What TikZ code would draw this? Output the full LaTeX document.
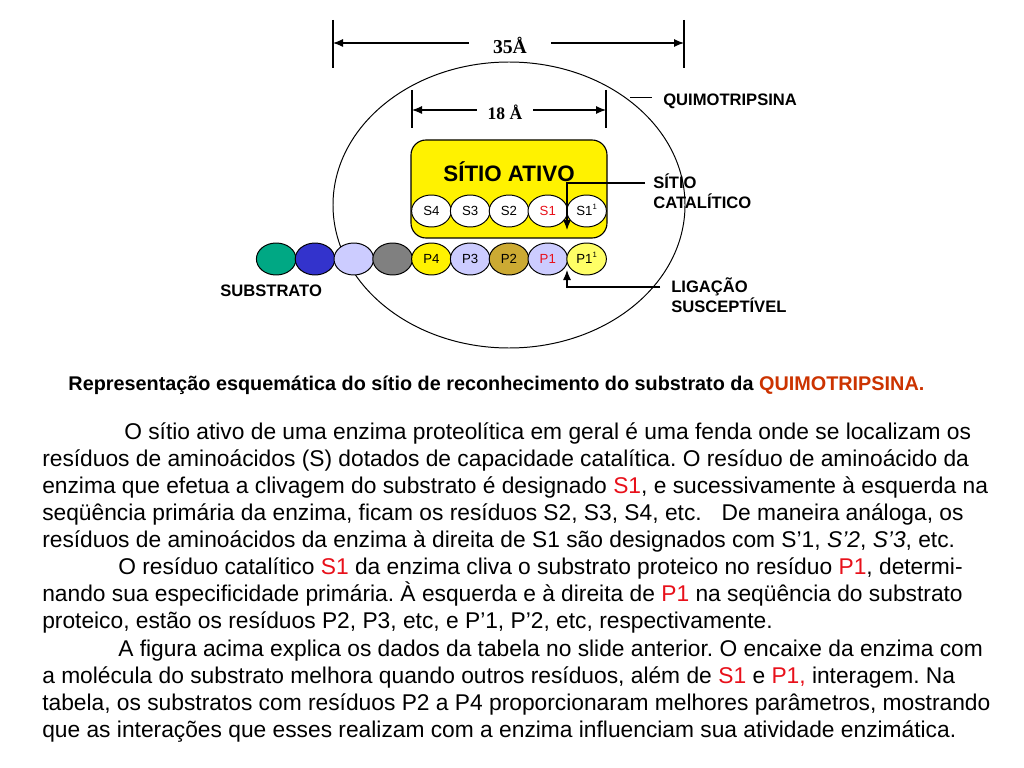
\documentclass[tikz,border=0pt]{standalone}
\usepackage{fontspec}
\setmainfont{Liberation Sans}
\newfontfamily\timesfont{Liberation Serif}
\usetikzlibrary{arrows.meta,shapes.geometric}
\frenchspacing

\definecolor{substteal}{RGB}{0,168,132}
\definecolor{substblue}{RGB}{51,51,204}
\definecolor{reslav}{RGB}{204,204,255}
\definecolor{resgray}{RGB}{128,128,128}
\definecolor{resolive}{RGB}{204,170,51}
\definecolor{respale}{RGB}{255,255,102}
\definecolor{capred}{RGB}{204,51,0}
\definecolor{txtred}{RGB}{232,16,26}

\newcommand{\linha}{\smash{\raisebox{0.42em}{\fontsize{5.5}{6}\selectfont 1}}}

\begin{document}
\begin{tikzpicture}[x=1cm,y=-1cm,
	res/.style={ ellipse, draw, line width=0.7pt, inner sep=0pt, minimum width=0.99cm, minimum height=0.8cm, font=\fontsize{9.4}{10}\selectfont },
	lbl/.style={ align=left, anchor=west, inner sep=0pt, font=\bfseries\fontsize{11.8}{14.2}\selectfont },
	dimtxt/.style={ font=\timesfont\bfseries\fontsize{14}{16}\selectfont },
	dimline/.style={ line width=0.8pt },
	arr/.style={ line width=0.8pt, -{Latex[length=0.25cm,width=0.2cm]} }
]

\fill[white] (0,0) rectangle (25.6,19.2);
\useasboundingbox (0,0) rectangle (25.6,19.2);

% 35 A
\coordinate (t35a) at (8.325,0.5);
\coordinate (t35b) at (8.325,1.7);
\coordinate (t35c) at (17.1,0.5);
\coordinate (t35d) at (17.1,1.7);
\draw[dimline] (t35a) -- (t35b);
\draw[dimline] (t35c) -- (t35d);
\coordinate (a35) at (0,1.075);
\node at (12.75,1.125) (d35) [dimtxt,inner xsep=0.6cm] {35Å};
\draw[arr] (d35.west |- a35) -- (t35a |- a35);
\draw[arr] (d35.east |- a35) -- (t35c |- a35);

% 18 A
\coordinate (t18a) at (10.3,2.25);
\coordinate (t18b) at (10.3,3.2);
\coordinate (t18c) at (15.15,2.25);
\coordinate (t18d) at (15.15,3.2);
\draw[dimline] (t18a) -- (t18b);
\draw[dimline] (t18c) -- (t18d);
\coordinate (a18) at (0,2.75);
\node at (12.625,2.8) (d18) [dimtxt,font=\timesfont\bfseries\fontsize{12.5}{14}\selectfont,inner xsep=0.27cm] {18 Å};
\draw[arr] (d18.west |- a18) -- (t18a |- a18);
\draw[arr] (d18.east |- a18) -- (t18c |- a18);

% enzima
\node at (12.725,5.125) (enzima) [ellipse,draw,line width=0.7pt,minimum width=8.8cm,minimum height=7.15cm] {};
\node at (16.575,2.525) (quimo) [lbl] {QUIMOTRIPSINA};
\coordinate (q1) at (15.75,2.425);
\coordinate (q2) at (16.3,2.425);
\draw[line width=0.7pt] (q1) -- (q2);

% sitio ativo
\node at (12.725,4.725) (sitio) [draw,fill=yellow,rounded corners=0.375cm,line width=0.8pt,minimum width=4.9cm,minimum height=2.45cm] {};
\node at (12.725,4.3) (titulo) [font=\bfseries\fontsize{15.9}{18}\selectfont] {SÍTIO ATIVO};
\foreach \nm/\txt [count=\i from 0] in {s4/S4, s3/S3, s2/S2, s1/{\color{txtred}S1}, s1p/{S1\linha}}
  \node at (10.785+0.97*\i,5.275) (\nm) [res,fill=white] {\txt};

% substrato
\foreach \nm/\col/\txt [count=\i from 0] in {pa/substteal/{}, pb/substblue/{}, pc/reslav/{}, pd/resgray/{},
    p4/yellow/P4, p3/reslav/P3, p2/resolive/P2, p1/reslav/{\color{txtred}P1}, p1p/respale/{P1\linha}}
  \node at (6.905+0.97*\i,6.475) (\nm) [res,fill=\col] {\txt};
\node at (5.5,7.275) (subst) [lbl] {SUBSTRATO};

% sitio catalitico
\node at (16.325,4.775) (catal) [lbl] {SÍTIO\\CATALÍTICO};
\coordinate (c2) at (14.175,4.575);
\coordinate (c3) at (14.175,5.75);
\draw[arr,shorten <=0.2cm] (catal.west |- c2) -- (c2) -- (c3);

% ligacao susceptivel
\node at (16.775,7.375) (ligacao) [lbl] {LIGAÇÃO\\SUSCEPTÍVEL};
\coordinate (l2) at (14.175,7.175);
\coordinate (l3) at (14.175,6.75);
\draw[arr,shorten <=0.275cm] (ligacao.west |- l2) -- (l2) -- (l3);

% legenda
\node at (12.41,9.64) (legenda) [font=\bfseries\fontsize{14.1}{16}\selectfont]
  {Representação esquemática do sítio de reconhecimento do substrato da \textcolor{capred}{QUIMOTRIPSINA.}};

% texto
\node at (1.05,10.55) (texto) [anchor=north west,align=left,inner sep=0pt,font=\fontsize{16.2}{19.3}\selectfont] {%
\hspace*{2.05cm}O sítio ativo de uma enzima proteolítica em geral é uma fenda onde se localizam os\\
resíduos de aminoácidos (S) dotados de capacidade catalítica. O resíduo de aminoácido da\\
enzima que efetua a clivagem do substrato é designado \textcolor{txtred}{S1}, e sucessivamente à esquerda na\\
seqüência primária da enzima, ficam os resíduos S2, S3, S4, etc.\hspace{0.6em} De maneira análoga, os\\
resíduos de aminoácidos da enzima à direita de S1 são designados com S’1, \textit{S’2}, \textit{S’3}, etc.\\
\hspace*{1.9cm}O resíduo catalítico \textcolor{txtred}{S1} da enzima cliva o substrato proteico no resíduo \textcolor{txtred}{P1}, determi-\\
nando sua especificidade primária. À esquerda e à direita de \textcolor{txtred}{P1} na seqüência do substrato\\
proteico, estão os resíduos P2, P3, etc, e P’1, P’2, etc, respectivamente.\\
\hspace*{1.9cm}A figura acima explica os dados da tabela no slide anterior. O encaixe da enzima com\\
a molécula do substrato melhora quando outros resíduos, além de \textcolor{txtred}{S1} e \textcolor{txtred}{P1,} interagem. Na\\
tabela, os substratos com resíduos P2 a P4 proporcionaram melhores parâmetros, mostrando\\
que as interações que esses realizam com a enzima influenciam sua atividade enzimática.};

\end{tikzpicture}
\end{document}
